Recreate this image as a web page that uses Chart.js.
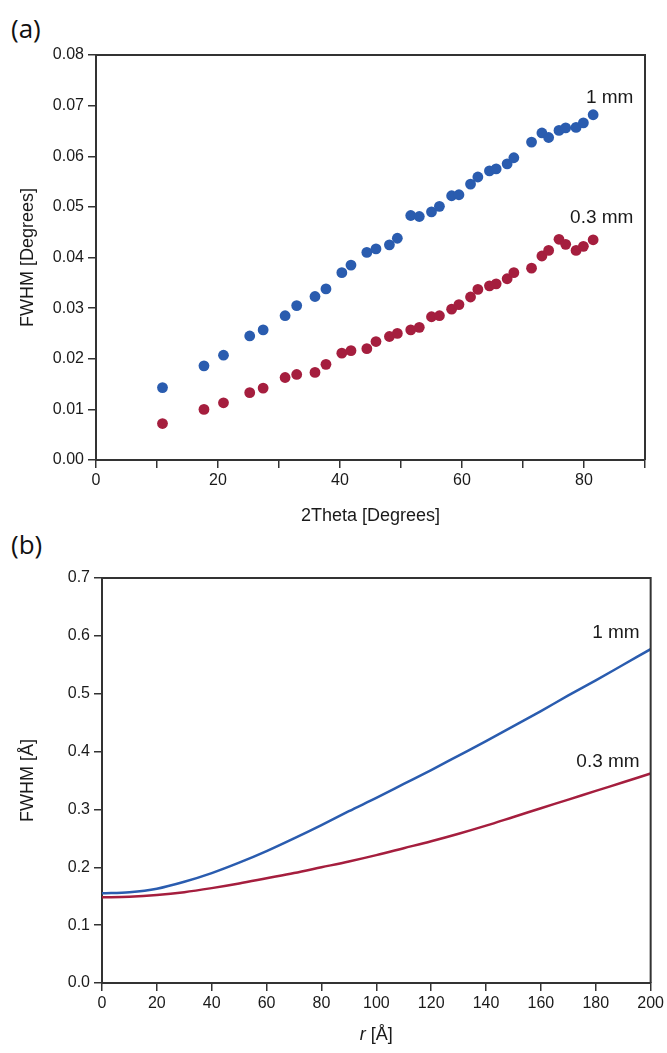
<!DOCTYPE html>
<html>
<head>
<meta charset="utf-8">
<script src="https://cdn.jsdelivr.net/npm/chart.js@4.4.1/dist/chart.umd.min.js"></script>
<style>
  html, body { margin: 0; padding: 0; background: #fff; }
  body { width: 667px; height: 1053px; position: relative; overflow: hidden; }
  .panel { position: absolute; left: 0; }
  .tag { position: absolute; left: 11px; font: 26px "Open Sans", sans-serif; color: #111; line-height: 1; }
</style>
</head>
<body>
<div class="tag" style="top:15px">(a)</div>
<div class="tag" style="top:531px">(b)</div>
<div class="panel" style="top:0"><canvas id="chart-a" width="667" height="530"></canvas></div>
<div class="panel" style="top:530px"><canvas id="chart-b" width="667" height="523"></canvas></div>
<script>
'use strict';

// (a) peak width vs 2theta, both slits share the same peak positions
const twoTheta = [10.9, 17.7, 20.9, 25.2, 27.4, 31.0, 32.9, 35.9, 37.7, 40.3, 41.8, 44.4,
    45.9, 48.1, 49.4, 51.6, 53.0, 55.0, 56.3, 58.3, 59.5, 61.4, 62.6, 64.5, 65.6, 67.4,
    68.5, 71.4, 73.1, 74.2, 75.9, 77.0, 78.7, 79.9, 81.5];
const fwhm1mm = [0.0143, 0.0186, 0.0207, 0.0245, 0.0257, 0.0285, 0.0305, 0.0323, 0.0338,
    0.0370, 0.0385, 0.0410, 0.0417, 0.0425, 0.0438, 0.0483, 0.0481, 0.0490, 0.0501, 0.0522,
    0.0524, 0.0545, 0.0559, 0.0571, 0.0575, 0.0585, 0.0597, 0.0628, 0.0646, 0.0637, 0.0651,
    0.0656, 0.0657, 0.0666, 0.0682];
const fwhm03mm = [0.0072, 0.0100, 0.0113, 0.0133, 0.0142, 0.0163, 0.0169, 0.0173, 0.0189,
    0.0211, 0.0216, 0.0220, 0.0234, 0.0244, 0.0250, 0.0257, 0.0262, 0.0283, 0.0285, 0.0298,
    0.0307, 0.0322, 0.0337, 0.0344, 0.0348, 0.0358, 0.0370, 0.0379, 0.0403, 0.0414, 0.0436,
    0.0426, 0.0414, 0.0422, 0.0435];

// (b) peak width vs r
const rValues = [0, 10, 20, 30, 40, 50, 60, 70, 80, 90, 100, 110, 120, 130, 140, 150, 160,
    170, 180, 190, 200];
const fwhmR1mm = [0.155, 0.157, 0.163, 0.175, 0.190, 0.208, 0.228, 0.250, 0.273, 0.297,
    0.320, 0.344, 0.368, 0.393, 0.418, 0.444, 0.470, 0.497, 0.523, 0.550, 0.577];
const fwhmR03mm = [0.148, 0.149, 0.152, 0.157, 0.164, 0.172, 0.181, 0.190, 0.200, 0.210,
    0.221, 0.233, 0.245, 0.258, 0.272, 0.287, 0.302, 0.317, 0.332, 0.347, 0.362];

const seriesNames = ['1 mm', '0.3 mm'];

const BLUE = '#2a5caf';
const RED = '#a51e3e';
const AXIS = '#333333';
const TEXT = '#1a1a1a';
const SANS = '"Liberation Sans", Arial, sans-serif';

Chart.defaults.font.family = SANS;
Chart.defaults.color = TEXT;

const pair = (xs, ys) => xs.map((x, i) => ({x: x, y: ys[i]}));

// closes the box on top and right, writes the series names near their data
const framePlugin = {
    id: 'frame_and_labels',
    afterDraw: (chart) => {
        const ctx = chart.ctx;
        const {left, top, right, bottom} = chart.chartArea;
        ctx.save();
        ctx.strokeStyle = AXIS;
        ctx.lineWidth = 2;
        ctx.beginPath();
        ctx.moveTo(left, top);
        ctx.lineTo(right, top);
        ctx.lineTo(right, bottom);
        ctx.stroke();

        const labels = chart.options.plugins.frame_and_labels.labels || [];
        ctx.font = '19px ' + SANS;
        ctx.fillStyle = TEXT;
        ctx.textAlign = 'right';
        ctx.textBaseline = 'middle';
        labels.forEach(l => {
            ctx.fillText(l.text, chart.scales.x.getPixelForValue(l.x), chart.scales.y.getPixelForValue(l.y));
        });

        const xt = chart.options.plugins.frame_and_labels.italicTitle;
        if (xt) {
            const cx = (left + right) / 2;
            const y = bottom + 52;
            ctx.font = 'italic 18px ' + SANS;
            const w1 = ctx.measureText(xt[0]).width;
            ctx.font = '18px ' + SANS;
            const w2 = ctx.measureText(xt[1]).width;
            const x0 = cx - (w1 + w2) / 2;
            ctx.textAlign = 'left';
            ctx.font = 'italic 18px ' + SANS;
            ctx.fillText(xt[0], x0, y);
            ctx.font = '18px ' + SANS;
            ctx.fillText(xt[1], x0 + w1, y);
        }
        ctx.restore();
    }
};

function axis(min, max, step, fmt, fitSize, horizontal, title) {
    return {
        type: 'linear',
        min: min,
        max: max,
        grid: {drawOnChartArea: false, drawTicks: true, tickLength: 8, color: AXIS, lineWidth: 1.5},
        border: {display: true, color: AXIS, width: 2},
        ticks: {stepSize: step, autoSkip: false, maxRotation: 0, padding: horizontal ? 3 : 4,
            font: {size: 16}, color: TEXT, callback: fmt},
        title: title,
        afterFit: (scale) => {
            if (horizontal) scale.height = fitSize; else scale.width = fitSize;
        }
    };
}

function drawPanelA() {
    const ctx = document.getElementById('chart-a');
    new Chart(ctx, {
        type: 'scatter',
        data: {
            datasets: [
                {label: seriesNames[0], data: pair(twoTheta, fwhm1mm), backgroundColor: BLUE,
                    pointRadius: 5.4, pointBorderWidth: 0, pointHoverRadius: 5.4},
                {label: seriesNames[1], data: pair(twoTheta, fwhm03mm), backgroundColor: RED,
                    pointRadius: 5.4, pointBorderWidth: 0, pointHoverRadius: 5.4}
            ]
        },
        options: {
            responsive: false,
            animation: false,
            events: [],
            layout: {padding: {left: 0, right: 22, top: 55, bottom: 0}},
            plugins: {
                legend: {display: false},
                tooltip: {enabled: false},
                frame_and_labels: {labels: [
                    {text: seriesNames[0], x: 88.1, y: 0.0716},
                    {text: seriesNames[1], x: 88.1, y: 0.0478}
                ]}
            },
            scales: {
                x: axis(0, 90, 10, v => (v % 20 === 0 ? v : ''), 70, true,
                    {display: true, text: '2Theta [Degrees]', color: TEXT, font: {size: 18},
                        padding: {top: 0, bottom: 3}}),
                y: axis(0, 0.08, 0.01, v => v.toFixed(2), 96, false,
                    {display: true, text: 'FWHM [Degrees]', color: TEXT, font: {size: 18},
                        padding: {top: 17, bottom: 0}})
            }
        },
        plugins: [framePlugin]
    });
}

function drawPanelB() {
    const ctx = document.getElementById('chart-b');
    new Chart(ctx, {
        type: 'line',
        data: {
            labels: rValues,
            datasets: [
                {label: seriesNames[0], data: pair(rValues, fwhmR1mm), borderColor: BLUE,
                    borderWidth: 2.5, pointRadius: 0, cubicInterpolationMode: 'monotone'},
                {label: seriesNames[1], data: pair(rValues, fwhmR03mm), borderColor: RED,
                    borderWidth: 2.5, pointRadius: 0, cubicInterpolationMode: 'monotone'}
            ]
        },
        options: {
            responsive: false,
            animation: false,
            events: [],
            layout: {padding: {left: 0, right: 15, top: 48, bottom: 0}},
            plugins: {
                legend: {display: false},
                tooltip: {enabled: false},
                frame_and_labels: {
                    labels: [
                        {text: seriesNames[0], x: 196, y: 0.605},
                        {text: seriesNames[1], x: 196, y: 0.382}
                    ],
                    italicTitle: ['r', ' [Å]']
                }
            },
            scales: {
                x: axis(0, 200, 20, v => v, 70, true, {display: false}),
                y: axis(0, 0.7, 0.1, v => v.toFixed(1), 102, false,
                    {display: true, text: 'FWHM [Å]', color: TEXT, font: {size: 18},
                        padding: {top: 17, bottom: 0}})
            }
        },
        plugins: [framePlugin]
    });
}

drawPanelA();
drawPanelB();
</script>
</body>
</html>
